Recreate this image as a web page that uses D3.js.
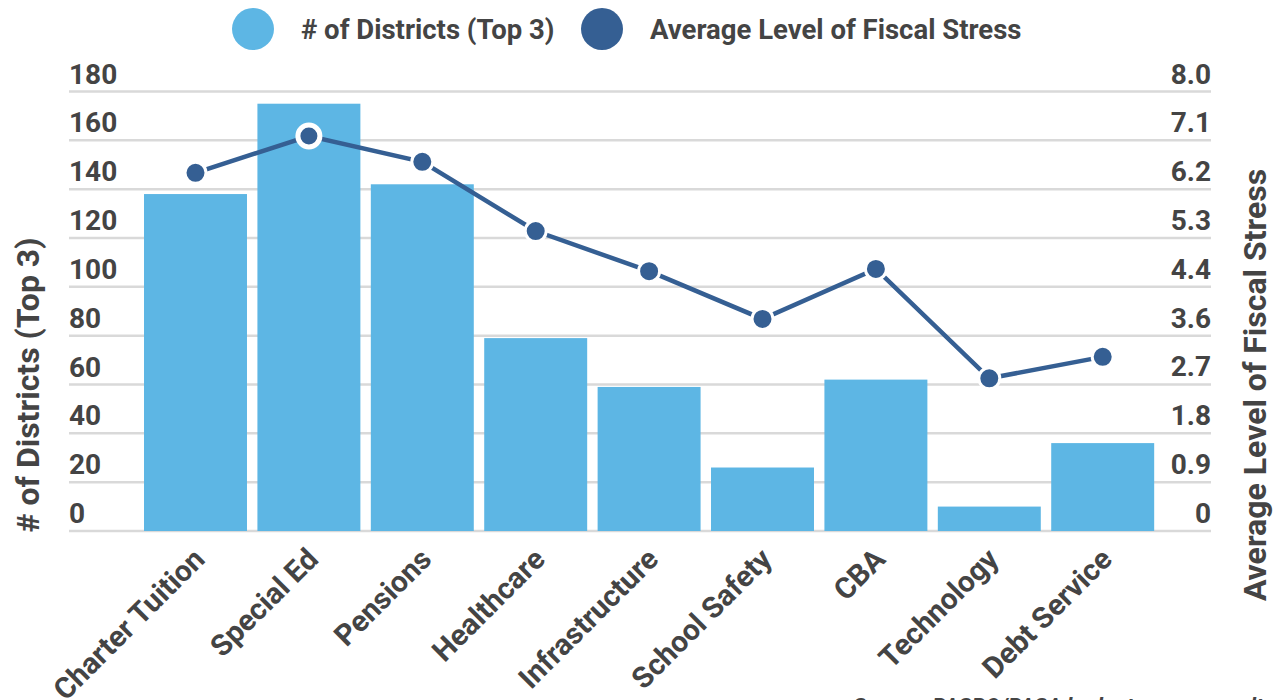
<!DOCTYPE html>
<html>
<head>
<meta charset="utf-8">
<script src="https://cdn.jsdelivr.net/npm/d3@7"></script>
<style>
  html, body { margin: 0; padding: 0; background: #fff; }
  svg { display: block; font-family: Roboto, "Noto Sans", sans-serif; }
</style>
</head>
<body>
<svg id="chart" width="1281" height="700"></svg>
<script>
const categories = ["Charter Tuition", "Special Ed", "Pensions", "Healthcare", "Infrastructure", "School Safety", "CBA", "Technology", "Debt Service"];
const districts = [138, 175, 142, 79, 59, 26, 62, 10, 36];
const stress = [6.52, 7.19, 6.72, 5.46, 4.73, 3.86, 4.77, 2.78, 3.17];
const leftTicks = [0, 20, 40, 60, 80, 100, 120, 140, 160, 180];
const rightTicks = [0, 0.889, 1.778, 2.667, 3.556, 4.444, 5.333, 6.222, 7.111, 8.0];
const rightTickLabels = ["0", "0.9", "1.8", "2.7", "3.6", "4.4", "5.3", "6.2", "7.1", "8.0"];
const seriesNames = ["# of Districts (Top 3)", "Average Level of Fiscal Stress"];
const sourceText = "Source: PASBO/PASA budget survey results";

const barColor = "#5db6e4";
const lineColor = "#355f93";
const textColor = "#444444";
const gridColor = "#d9d9d9";

const svg = d3.select("#chart");
const plotTop = 91.5, plotBottom = 531, gridLeft = 69, gridRight = 1211;

const x = d3.scaleBand().domain(categories).range([138.8, 1159.4]).paddingInner(0.092).paddingOuter(0.046);
const yL = d3.scaleLinear().domain([0, 180]).range([plotBottom, plotTop]);
const yR = d3.scaleLinear().domain([0, 8]).range([plotBottom, plotTop]);

// gridlines
svg.append("g").selectAll("line").data(leftTicks).join("line")
  .attr("x1", gridLeft).attr("x2", gridRight)
  .attr("y1", d => yL(d)).attr("y2", d => yL(d))
  .attr("stroke", gridColor).attr("stroke-width", 2.5);

// left tick labels
svg.append("g").selectAll("text").data(leftTicks).join("text")
  .attr("x", gridLeft).attr("y", d => yL(d) - 8)
  .attr("fill", textColor).attr("font-size", 28).attr("font-weight", 700)
  .text(d => d);

// right tick labels
svg.append("g").selectAll("text").data(rightTicks).join("text")
  .attr("x", gridRight).attr("y", d => yR(d) - 8)
  .attr("text-anchor", "end")
  .attr("fill", textColor).attr("font-size", 28).attr("font-weight", 700)
  .text((d, i) => rightTickLabels[i]);

// bars
svg.append("g").selectAll("rect").data(categories).join("rect")
  .attr("x", d => x(d)).attr("width", x.bandwidth())
  .attr("y", (d, i) => yL(districts[i]))
  .attr("height", (d, i) => yL(0) - yL(districts[i]))
  .attr("fill", barColor);

// line
const line = d3.line().x((d, i) => x(categories[i]) + x.bandwidth() / 2).y(d => yR(d));
svg.append("path").datum(stress).attr("d", line)
  .attr("fill", "none").attr("stroke", lineColor).attr("stroke-width", 4.5);

svg.append("g").selectAll("circle").data(stress).join("circle")
  .attr("cx", (d, i) => x(categories[i]) + x.bandwidth() / 2)
  .attr("cy", d => yR(d))
  .attr("r", (d, i) => i === 1 ? 11 : 10.5)
  .attr("fill", lineColor).attr("stroke", "#fff")
  .attr("stroke-width", (d, i) => i === 1 ? 5 : 3);

// x labels
svg.append("g").selectAll("text").data(categories).join("text")
  .attr("transform", d => `translate(${x(d) + x.bandwidth() / 2 + 11},${561}) rotate(-45)`)
  .attr("text-anchor", "end")
  .attr("fill", textColor).attr("font-size", 29.5).attr("font-weight", 700)
  .text(d => d);

// axis titles
svg.append("text").attr("transform", `translate(39,385) rotate(-90)`)
  .attr("text-anchor", "middle").attr("fill", textColor)
  .attr("font-size", 32).attr("font-weight", 700).text(seriesNames[0]);
svg.append("text").attr("transform", `translate(1266,385) rotate(-90)`)
  .attr("text-anchor", "middle").attr("fill", textColor)
  .attr("font-size", 32).attr("font-weight", 700).text(seriesNames[1]);

// legend
const legend = svg.append("g");
const legendItems = [{cx: 253, tx: 301, color: barColor}, {cx: 602, tx: 650, color: lineColor}];
legendItems.forEach((it, i) => {
  legend.append("circle").attr("cx", it.cx).attr("cy", 29).attr("r", 21).attr("fill", it.color);
  legend.append("text").attr("x", it.tx).attr("y", 39)
    .attr("fill", textColor).attr("font-size", 27.5).attr("font-weight", 700)
    .text(seriesNames[i]);
});

// source
svg.append("text").attr("x", 853).attr("y", 714)
  .attr("fill", textColor).attr("font-size", 22).attr("font-weight", 700).attr("font-style", "italic")
  .text(sourceText);
</script>
</body>
</html>
